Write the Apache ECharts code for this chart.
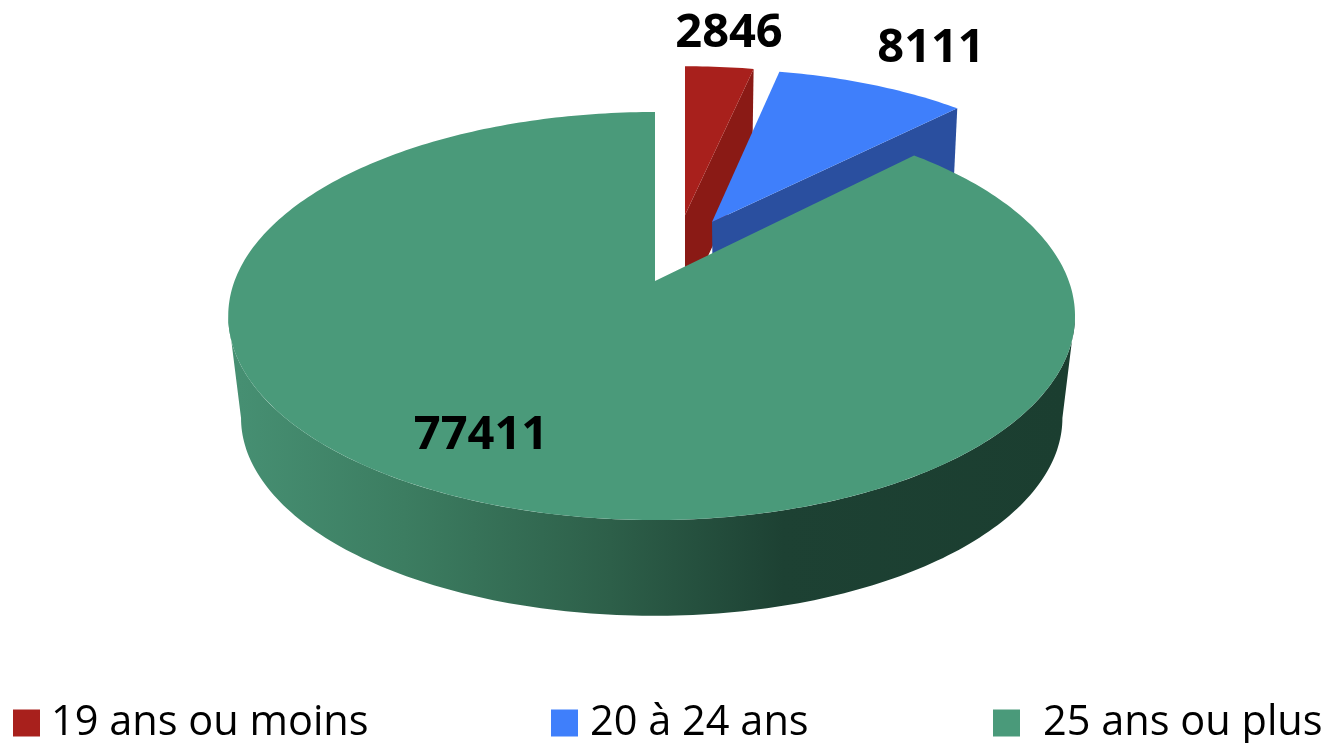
<!DOCTYPE html>
<html>
<head>
<meta charset="utf-8">
<style>html,body{margin:0;padding:0;background:#fff;overflow:hidden}#c{width:1327px;height:743px}</style>
<script src="https://cdn.jsdelivr.net/npm/echarts@6/dist/echarts.min.js"></script>
</head>
<body>
<div id="c"></div>
<script>
// Data
const categories = ['19 ans ou moins', '20 à 24 ans', '25 ans ou plus'];
const values = [2846, 8111, 77411];

// Styles
const topColors = ['#a8201c', '#3f7ffb', '#4a9a7a'];
const cutColors = ['#8a1a15', '#2a4f9f', '#1c3f31'];
const greenSideStops = [
  {offset: 0, color: '#468f72'},
  {offset: 0.2, color: '#3c7d61'},
  {offset: 0.45, color: '#2d5f49'},
  {offset: 0.66, color: '#1d4133'},
  {offset: 1, color: '#1b3e30'}
];

// Layout of each exploded slice: top-face apex, bottom-face apex, horizontal and vertical scale, depth scale
const apexTop = [[685, 215], [712, 222], [655, 281]];
const apexBottom = [[685, 305], [713, 311], [655, 384]];
const scaleX = [0.957, 0.94, 1];
const scaleY = [0.88, 0.905, 1];
const scaleBottom = [0.98, 0.978, 0.97];
const labelPos = [[729, 34], [931, 49], [481, 436]];
const legendLeft = [13, 551, 993];
const legendTextGap = [11, 12, 23];

// Perspective of the pie plane
const planeA = 416.7, planeB = 198, planeK = 0.1716;
const total = values.reduce((a, b) => a + b, 0);
// Angles where the rim turns from back to front: the silhouette of the disc
const frontStart = Math.acos(-planeK) * 180 / Math.PI;
const frontEnd = 360 - frontStart;

function rim(i, deg, bottom) {
  const t = deg * Math.PI / 180, u = Math.sin(t), v = Math.cos(t);
  const d = 1 + planeK * v;
  const side = i === 2 ? (u < 0 ? 1.009 : 0.993) : 1;
  const sb = bottom ? scaleBottom[i] : 1;
  const a = bottom ? apexBottom[i] : apexTop[i];
  return [a[0] + sb * scaleX[i] * side * planeA * u / d, a[1] - sb * scaleY[i] * planeB * v / d];
}

function arc(i, a0, a1, bottom) {
  const pts = [];
  const n = Math.ceil(a1 - a0);
  for (let k = 0; k <= n; k++) pts.push(rim(i, a0 + (a1 - a0) * k / n, bottom));
  return pts;
}

function makeRender(i) {
  return function (params, api) {
    const before = values.slice(0, i).reduce((a, b) => a + b, 0);
    const a0 = before / total * 360;
    const a1 = a0 + api.value(0) / total * 360;
    const topArc = arc(i, a0, a1, false);
    const children = [];
    // outer wall: only the part of the rim that faces the viewer
    const w0 = Math.max(a0, frontStart), w1 = Math.min(a1, frontEnd);
    if (w1 > w0) {
      children.push({
        type: 'polygon',
        shape: {points: arc(i, w0, w1, false).concat(arc(i, w0, w1, true).reverse())},
        style: {fill: {type: 'linear', x: 240, y: 0, x2: 1063, y2: 0, global: true, colorStops: greenSideStops}}
      });
    }
    // visible cut face on the clockwise edge
    if (i < 2) {
      children.push({
        type: 'polygon',
        shape: {points: [apexTop[i], rim(i, a1, false), rim(i, a1, true), apexBottom[i]]},
        style: {fill: cutColors[i]}
      });
    }
    // top face
    children.push({
      type: 'polygon',
      shape: {points: [apexTop[i]].concat(topArc)},
      style: {fill: topColors[i]}
    });
    children.push({
      type: 'text',
      style: {
        text: String(api.value(0)),
        x: labelPos[i][0], y: labelPos[i][1],
        align: 'center', verticalAlign: 'middle',
        font: 'bold 47px "Open Sans"', fill: '#000'
      }
    });
    return {type: 'group', children};
  };
}

const chart = echarts.init(document.getElementById('c'), null, {renderer: 'canvas'});
chart.setOption({
  animation: false,
  backgroundColor: '#fff',
  tooltip: {show: false},
  legend: categories.map((name, i) => ({
    data: [name],
    left: legendLeft[i],
    top: 698,
    icon: 'rect',
    itemWidth: 27,
    itemHeight: 27,
    itemGap: 0,
    padding: 0,
    selectedMode: false,
    textStyle: {fontFamily: '"Open Sans"', fontSize: 41.5, lineHeight: 50, color: '#000', padding: [0, 0, 0, legendTextGap[i] - 5]}
  })),
  series: categories.map((name, i) => ({
    type: 'custom',
    name,
    coordinateSystem: 'none',
    silent: true,
    itemStyle: {color: topColors[i]},
    data: [[values[i]]],
    renderItem: makeRender(i)
  }))
});
</script>
</body>
</html>
